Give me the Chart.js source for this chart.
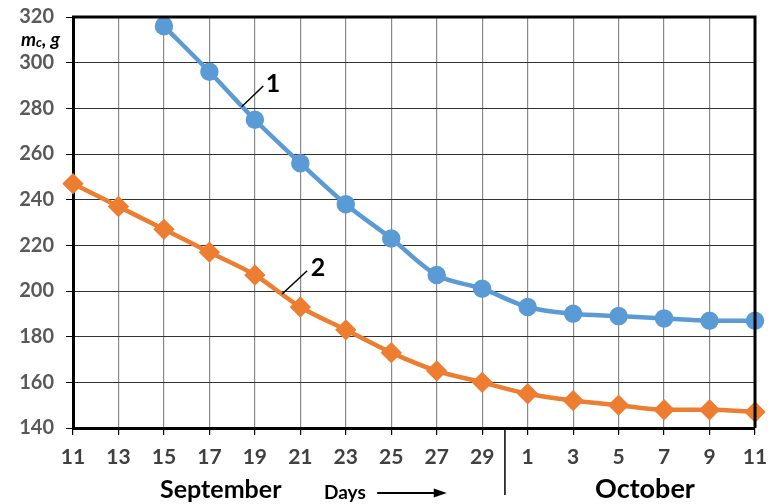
<!DOCTYPE html>
<html>
<head>
<meta charset="utf-8">
<script src="https://cdn.jsdelivr.net/npm/chart.js@4"></script>
<style>
  body { margin: 0; background: #fff; }
  #wrap { width: 773px; height: 504px; }
</style>
</head>
<body>
<div id="wrap"><canvas id="myChart" width="773" height="504"></canvas></div>
<script>
var days = ['11', '13', '15', '17', '19', '21', '23', '25', '27', '29', '1', '3', '5', '7', '9', '11'];
var series1 = [null, null, 316, 296, 275, 256, 238, 223, 207, 201, 193, 190, 189, 188, 187, 187];
var series2 = [247, 237, 227, 217, 207, 193, 183, 173, 165, 160, 155, 152, 150, 148, 148, 147];
var yMin = 140, yMax = 320, yStep = 20;

var fontFamily = 'Lato, "Open Sans", sans-serif';

// frame, month labels, curve numbers, axis title
var extras = {
    id: 'extras',
    afterDraw: function (chart) {
        var ctx = chart.ctx;
        var a = chart.chartArea;
        var x = chart.scales.x;
        var y = chart.scales.y;
        ctx.save();

        // top and right border
        ctx.strokeStyle = '#000';
        ctx.lineWidth = 3;
        ctx.beginPath();
        ctx.moveTo(a.left - 1, a.top);
        ctx.lineTo(a.right, a.top);
        ctx.lineTo(a.right, a.bottom);
        ctx.stroke();

        // month divider
        var mid = (x.getPixelForValue(9) + x.getPixelForValue(10)) / 2;
        ctx.lineWidth = 1.5;
        ctx.beginPath();
        ctx.moveTo(mid, a.bottom);
        ctx.lineTo(mid, a.bottom + 67);
        ctx.stroke();

        ctx.fillStyle = '#000';
        ctx.textBaseline = 'middle';
        ctx.textAlign = 'center';
        ctx.font = 'bold 25px ' + fontFamily;
        ctx.fillText('September', x.getPixelForValue(3.25), a.bottom + 62);
        ctx.font = 'bold 27px ' + fontFamily;
        ctx.fillText('October', x.getPixelForValue(12.58), a.bottom + 61);

        ctx.font = 'bold 19px ' + fontFamily;
        ctx.fillText('Days', x.getPixelForValue(5.98), a.bottom + 65);
        // arrow
        var ax0 = x.getPixelForValue(6.69), ax1 = x.getPixelForValue(8.22);
        var ay = a.bottom + 65;
        ctx.lineWidth = 1.8;
        ctx.beginPath();
        ctx.moveTo(ax0, ay);
        ctx.lineTo(ax1 - 8, ay);
        ctx.stroke();
        ctx.beginPath();
        ctx.moveTo(ax1, ay);
        ctx.lineTo(ax1 - 13, ay - 4.5);
        ctx.lineTo(ax1 - 13, ay + 4.5);
        ctx.closePath();
        ctx.fill();

        // curve labels with leader lines
        ctx.lineWidth = 1.5;
        ctx.font = 'bold 25px ' + fontFamily;
        ctx.textAlign = 'left';
        ctx.beginPath();
        ctx.moveTo(x.getPixelForValue(3.71), y.getPixelForValue(280.7));
        ctx.lineTo(x.getPixelForValue(4.185), y.getPixelForValue(289.8));
        ctx.stroke();
        ctx.fillText('1', x.getPixelForValue(4.24), y.getPixelForValue(290.5));

        ctx.beginPath();
        ctx.moveTo(x.getPixelForValue(4.60), y.getPixelForValue(198.7));
        ctx.lineTo(x.getPixelForValue(5.15), y.getPixelForValue(208.9));
        ctx.stroke();
        ctx.fillText('2', x.getPixelForValue(5.23), y.getPixelForValue(210));

        // axis title m_c, g
        var tx = 21, ty = y.getPixelForValue(310);
        ctx.font = 'italic bold 19px ' + fontFamily;
        ctx.textAlign = 'left';
        ctx.fillText('m', tx, ty);
        var w = ctx.measureText('m').width;
        ctx.font = 'italic bold 13px ' + fontFamily;
        ctx.fillText('c', tx + w, ty + 3);
        var w2 = ctx.measureText('c').width;
        ctx.font = 'italic bold 19px ' + fontFamily;
        ctx.fillText(', g', tx + w + w2, ty);

        ctx.restore();
    }
};

var ctx = document.getElementById('myChart').getContext('2d');
var myChart = new Chart(ctx, {
    type: 'line',
    data: {
        labels: days,
        datasets: [
            {
                label: '1',
                data: series1,
                borderColor: '#5B9BD5',
                backgroundColor: '#5B9BD5',
                borderWidth: 4.5,
                pointRadius: 7,
                pointStyle: 'circle',
                cubicInterpolationMode: 'monotone',
                fill: false
            },
            {
                label: '2',
                data: series2,
                borderColor: '#ED7D31',
                backgroundColor: '#ED7D31',
                borderWidth: 4.5,
                pointRadius: 7.5,
                pointStyle: 'rectRot',
                cubicInterpolationMode: 'monotone',
                fill: false
            }
        ]
    },
    options: {
        responsive: false,
        animation: false,
        layout: { padding: { top: 17, right: 18, left: 0, bottom: 0 } },
        plugins: {
            legend: { display: false },
            tooltip: { enabled: false }
        },
        scales: {
            x: {
                type: 'category',
                offset: false,
                grid: {
                    color: '#8a8a8a',
                    lineWidth: 1.2,
                    tickLength: 7,
                    tickColor: '#000',
                    drawOnChartArea: true
                },
                border: { color: '#000', width: 3 },
                ticks: {
                    color: '#404040',
                    padding: 10,
                    autoSkip: false,
                    maxRotation: 0,
                    font: { family: fontFamily, size: 21, weight: 'bold' }
                },
                afterFit: function (scale) {
                    scale.height = 76;
                    scale.paddingLeft = 0;
                    scale.paddingRight = 0;
                }
            },
            y: {
                min: yMin,
                max: yMax,
                grid: {
                    color: '#333',
                    lineWidth: 1,
                    tickLength: 7,
                    tickColor: '#000'
                },
                border: { color: '#000', width: 3 },
                ticks: {
                    stepSize: yStep,
                    color: '#595959',
                    padding: 12,
                    font: { family: fontFamily, size: 20, weight: 'bold' }
                },
                afterFit: function (scale) {
                    scale.width = 73;
                    scale.paddingTop = 0;
                    scale.paddingBottom = 0;
                }
            }
        }
    },
    plugins: [extras]
});
</script>
</body>
</html>
